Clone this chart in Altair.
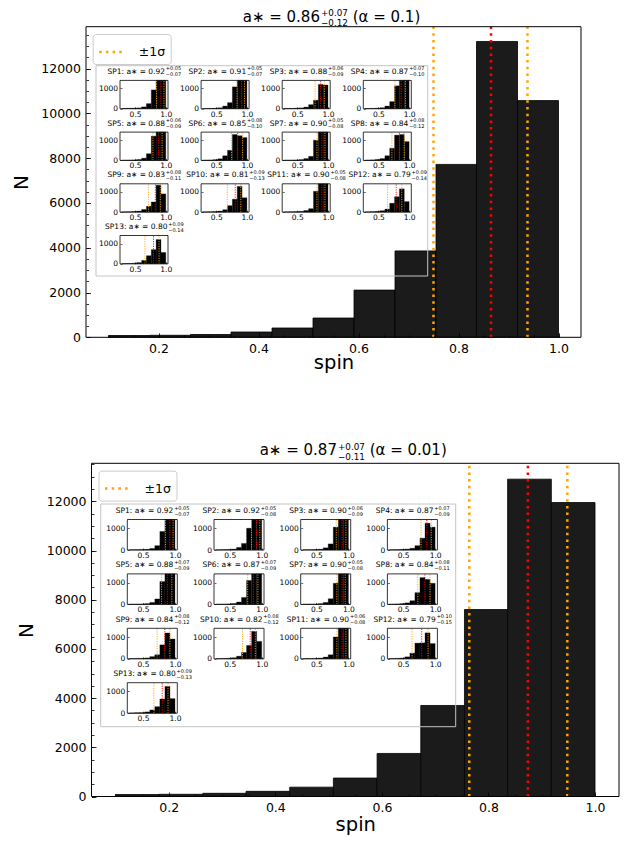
import altair as alt
import pandas as pd

# ---------------- data ----------------
main_edges = [0.100, 0.182, 0.264, 0.345, 0.427, 0.509, 0.591, 0.673, 0.755, 0.836, 0.918, 1.000]
top_counts = [80, 90, 125, 236, 415, 860, 2107, 3858, 7720, 13210, 10570]
bot_counts = [80, 90, 130, 210, 380, 750, 1750, 3700, 7600, 12900, 11950]
top_lines = [0.750, 0.865, 0.938]   # -1sigma, median, +1sigma
bot_lines = [0.764, 0.874, 0.948]
top_title = ["a∗ = 0.86", "+0.07", "−0.12", "(α = 0.1)"]
bot_title = ["a∗ = 0.87", "+0.07", "−0.11", "(α = 0.01)"]

inset_edges = [0.290, 0.369, 0.448, 0.527, 0.606, 0.684, 0.763, 0.842, 0.921, 1.000]
sp_names = ["SP1", "SP2", "SP3", "SP4", "SP5", "SP6", "SP7", "SP8", "SP9", "SP10", "SP11", "SP12", "SP13"]

top_sp_med = [0.92, 0.91, 0.88, 0.87, 0.88, 0.85, 0.90, 0.84, 0.83, 0.81, 0.90, 0.79, 0.80]
top_sp_plus = [0.05, 0.05, 0.06, 0.07, 0.06, 0.08, 0.05, 0.08, 0.08, 0.09, 0.05, 0.09, 0.09]
top_sp_minus = [0.07, 0.07, 0.09, 0.10, 0.09, 0.10, 0.08, 0.12, 0.11, 0.13, 0.08, 0.14, 0.14]
top_sp_counts = [
    [15, 20, 25, 40, 90, 250, 930, 1600, 1600],
    [10, 15, 20, 45, 130, 300, 1080, 1600, 1600],
    [12, 15, 25, 40, 80, 200, 420, 1200, 1170],
    [10, 15, 25, 50, 130, 350, 1130, 1600, 1600],
    [10, 15, 25, 45, 110, 330, 1200, 1600, 1600],
    [12, 20, 35, 80, 230, 500, 1280, 1220, 1130],
    [10, 15, 20, 40, 90, 200, 1000, 1600, 1600],
    [15, 25, 45, 90, 230, 600, 1250, 1280, 930],
    [10, 15, 25, 50, 130, 290, 500, 1330, 900],
    [10, 15, 25, 50, 120, 320, 640, 1270, 710],
    [10, 15, 20, 35, 80, 170, 1030, 1600, 1600],
    [10, 20, 35, 70, 150, 440, 760, 1150, 520],
    [10, 15, 30, 60, 170, 400, 700, 1200, 560],
]

bot_sp_med = [0.92, 0.92, 0.90, 0.87, 0.88, 0.87, 0.90, 0.84, 0.84, 0.82, 0.90, 0.79, 0.80]
bot_sp_plus = [0.05, 0.05, 0.06, 0.07, 0.07, 0.07, 0.05, 0.08, 0.08, 0.08, 0.06, 0.10, 0.09]
bot_sp_minus = [0.07, 0.08, 0.09, 0.09, 0.09, 0.09, 0.08, 0.11, 0.12, 0.12, 0.08, 0.15, 0.13]
bot_sp_counts = [
    [10, 12, 18, 30, 70, 200, 850, 1600, 1600],
    [10, 15, 20, 40, 120, 300, 1000, 1600, 1600],
    [10, 12, 20, 35, 100, 280, 1050, 1600, 1600],
    [10, 15, 25, 40, 80, 200, 540, 1230, 1050],
    [10, 12, 18, 35, 90, 250, 1050, 1600, 1600],
    [10, 12, 20, 40, 110, 320, 1100, 1600, 1600],
    [10, 12, 18, 35, 90, 260, 970, 1600, 1600],
    [12, 20, 35, 70, 170, 540, 1230, 1150, 970],
    [10, 15, 20, 40, 100, 185, 640, 1185, 910],
    [10, 15, 25, 50, 120, 290, 615, 1260, 800],
    [10, 12, 18, 35, 80, 185, 1000, 1600, 1600],
    [10, 20, 35, 90, 260, 720, 730, 1190, 700],
    [10, 15, 25, 60, 150, 300, 650, 1230, 670],
]

# ---------------- layout ----------------
W, H = 617, 830
FONT = "DejaVu Sans"
XDOM = [0.055, 1.045]
IN_XDOM = [0.2545, 1.0355]
IN_YLIM = 1400
XMAJ = [0.2, 0.4, 0.6, 0.8, 1.0]
XMINOR = [round(0.05 * k, 2) for k in range(2, 21)]
ORANGE = "#ffa500"
RED = "#ff0000"

PANELS = [
    dict(x0=78, x1=573, yb=329.3, yt=18.7, ylim=13870, counts=top_counts, lines=top_lines,
         legend=(84.7, 26), n_x=13.7, spin_dy=25, title=top_title, title_y=13.8,
         in_x0=112, in_dx=81.1, in_w=48, in_yb=100.7, in_dy=51.7, in_h=28.3,
         box=(88, 419.7, 57.7, 268),
         med=top_sp_med, plus=top_sp_plus, minus=top_sp_minus, spc=top_sp_counts),
    dict(x0=83.5, x1=611, yb=788.5, yt=455.3, ylim=13545, counts=bot_counts, lines=bot_lines,
         legend=(90.5, 462.6), n_x=18, spin_dy=28, title=bot_title, title_y=447.3,
         in_x0=119.3, in_dx=86.7, in_w=50, in_yb=542, in_dy=54.4, in_h=30.5,
         box=(92.7, 447.7, 496, 718.7),
         med=bot_sp_med, plus=bot_sp_plus, minus=bot_sp_minus, spc=bot_sp_counts),
]

CW = {'S': 0.635, 'P': 0.603, ':': 0.337, ' ': 0.318, 'a': 0.613, '∗': 0.5, '=': 0.838,
      '.': 0.318, '+': 0.838, '−': 0.838, '(': 0.39, ')': 0.39, 'α': 0.659}


def tw(s, fs):
    return fs * sum(CW.get(ch, 0.636) for ch in s)


def S(dom, rng, clamp=False):
    if clamp:
        return alt.Scale(domain=dom, range=rng, nice=False, zero=False, clamp=True)
    return alt.Scale(domain=dom, range=rng, nice=False, zero=False)


def main_layers(P):
    x0, x1, yb, yt, ylim = P['x0'], P['x1'], P['yb'], P['yt'], P['ylim']
    xr, yr = [x0, x1], [yb, yt]
    ymaj = [v for v in range(0, 14001, 2000) if v <= ylim]
    ymin = [v for v in range(0, 14001, 500) if v <= ylim]
    bars_df = pd.DataFrame({'lo': main_edges[:-1], 'hi': main_edges[1:], 'n': P['counts']})
    bars = alt.Chart(bars_df).mark_rect(fill='#1b1b1b', stroke='#000000', strokeWidth=0.8).encode(
        x=alt.X('lo:Q', scale=S(XDOM, xr), axis=alt.Axis(
            orient='bottom', offset=yb - H, values=XMAJ, format='.1f', ticks=False, tickSize=0,
            domain=False, grid=False, labelFontSize=12.5, labelPadding=5, labelFlush=False,
            labelOverlap=False, title='spin', titleFontSize=19.5, titleFontWeight='normal',
            titleX=(x0 + x1) / 2, titleY=P['spin_dy'], titleBaseline='middle', titleAlign='center')),
        x2=alt.X2('hi'),
        y=alt.Y('n:Q', scale=S([0, ylim], yr), axis=alt.Axis(
            orient='left', offset=-x0, values=ymaj, format='d', ticks=False, tickSize=0,
            domain=False, grid=False, labelFontSize=12.5, labelPadding=5.5, labelOverlap=False,
            title='N', titleFontSize=20, titleFontWeight='normal', titleAngle=270,
            titleX=P['n_x'] - x0, titleY=(yb + yt) / 2, titleBaseline='middle', titleAlign='center')),
        y2=alt.Y2Datum(0),
    )
    lo, med, hi = P['lines']
    orange = alt.Chart(pd.DataFrame({'v': [lo, hi], 'lab': ['±1σ', '±1σ']})).mark_rule(
        strokeWidth=2.5, strokeDash=[2.5, 4.2]).encode(
        x=alt.X('v:Q', scale=S(XDOM, xr), axis=alt.Axis(
            orient='top', offset=-yb, values=XMINOR, tickSize=2.5, tickColor='black', tickWidth=0.8,
            labels=False, domain=False, grid=False, title=None, zindex=1)),
        y=alt.YDatum(0, scale=S([0, ylim], yr), axis=alt.Axis(
            orient='right', offset=x0 - W, values=ymin, tickSize=2.5, tickColor='black', tickWidth=0.8,
            labels=False, domain=False, grid=False, title=None, zindex=1)),
        y2=alt.Y2Datum(ylim),
        color=alt.Color('lab:N', scale=alt.Scale(domain=['±1σ'], range=[ORANGE]), legend=alt.Legend(
            orient='none', legendX=P['legend'][0], legendY=P['legend'][1], title=None,
            symbolType='stroke', symbolSize=529, symbolStrokeWidth=2.5, symbolDash=[2.5, 4.2],
            labelFontSize=12.5, labelOffset=15, padding=5, strokeColor='#cccccc',
            fillColor='white', cornerRadius=3, labelFont=FONT, labelColor='black')),
    )
    red = alt.Chart(pd.DataFrame({'v': [med]})).mark_rule(
        color=RED, strokeWidth=2.5, strokeDash=[2.5, 4.2]).encode(
        x=alt.X('v:Q', scale=S(XDOM, xr), axis=alt.Axis(
            orient='top', offset=-yb, values=XMAJ, tickSize=4.5, tickColor='black', tickWidth=0.8,
            labels=False, domain=False, grid=False, title=None, zindex=1)),
        y=alt.YDatum(0, scale=S([0, ylim], yr), axis=alt.Axis(
            orient='right', offset=x0 - W, values=ymaj, tickSize=4.5, tickColor='black', tickWidth=0.8,
            labels=False, domain=False, grid=False, title=None, zindex=1)),
        y2=alt.Y2Datum(ylim),
    )
    frame = alt.Chart(pd.DataFrame({'k': [0]})).mark_rect(
        filled=False, stroke='black', strokeWidth=1).encode(
        x=alt.XDatum(XDOM[0], scale=S(XDOM, xr), axis=None), x2=alt.X2Datum(XDOM[1]),
        y=alt.YDatum(0, scale=S([0, ylim], yr), axis=None), y2=alt.Y2Datum(ylim),
    )
    return [bars], [orange, red, frame]


def inset_layers(P, i):
    r, c = divmod(i, 4)
    ix0 = P['in_x0'] + c * P['in_dx']
    ix1 = ix0 + P['in_w']
    iyb = P['in_yb'] + r * P['in_dy']
    iyt = iyb - P['in_h']
    xs = S(IN_XDOM, [ix0, ix1])
    ys = S([0, IN_YLIM], [iyb, iyt], clamp=True)
    df = pd.DataFrame({'lo': inset_edges[:-1], 'hi': inset_edges[1:], 'n': P['spc'][i]})
    bars = alt.Chart(df).mark_rect(fill='black', stroke='#111111', strokeWidth=0.3).encode(
        x=alt.X('lo:Q', scale=xs, axis=alt.Axis(
            orient='bottom', offset=iyb - H, values=[0.5, 1.0], format='.1f', ticks=False, tickSize=0,
            domain=False, grid=False, labelFontSize=7.5, labelPadding=1.5, labelFlush=False,
            labelOverlap=False, title=None)),
        x2=alt.X2('hi'),
        y=alt.Y('n:Q', scale=ys, axis=alt.Axis(
            orient='left', offset=-ix0, values=[0, 1000], format='d', ticks=False, tickSize=0,
            domain=False, grid=False, labelFontSize=7.5, labelPadding=2.5, labelOverlap=False,
            title=None)),
        y2=alt.Y2Datum(0),
    )
    m, pl, mi = P['med'][i], P['plus'][i], P['minus'][i]
    ldf = pd.DataFrame({'v': [m - mi, m, m + pl], 'c': [ORANGE, RED, ORANGE]})
    lines = alt.Chart(ldf).mark_rule(strokeWidth=0.9, strokeDash=[1.2, 1.2]).encode(
        x=alt.X('v:Q', scale=xs, axis=alt.Axis(
            orient='top', offset=-iyb, values=[0.5, 1.0], tickSize=2, tickColor='black', tickWidth=0.6,
            labels=False, domain=False, grid=False, title=None, zindex=1)),
        y=alt.YDatum(0, scale=ys, axis=alt.Axis(
            orient='right', offset=ix0 - W, values=[0, 1000], tickSize=2, tickColor='black', tickWidth=0.6,
            labels=False, domain=False, grid=False, title=None, zindex=1)),
        y2=alt.Y2Datum(IN_YLIM),
        color=alt.Color('c:N', scale=None),
    )
    frame = alt.Chart(pd.DataFrame({'k': [0]})).mark_rect(
        filled=False, stroke='black', strokeWidth=0.8).encode(
        x=alt.XDatum(IN_XDOM[0], scale=xs, axis=None), x2=alt.X2Datum(IN_XDOM[1]),
        y=alt.YDatum(0, scale=ys, axis=None), y2=alt.Y2Datum(IN_YLIM),
    )
    base = f"{sp_names[i]}:  a∗ = {m:.2f}"
    sup = f"+{pl:.2f}"
    sub = f"−{mi:.2f}"
    fb, fs = 7.5, 5.0
    cx = (ix0 + ix1) / 2
    anchor = cx - (tw(base, fb) + tw(sup, fs)) / 2 + tw(base, fb)
    rrows = [dict(px=anchor, py=iyt - 6.5, t=base, fs=fb)]
    lrows = [dict(px=anchor + 0.8, py=iyt - 10, t=sup, fs=fs),
             dict(px=anchor + 0.8, py=iyt - 4.0, t=sub, fs=fs)]
    return [bars, lines, frame], rrows, lrows


layers_bottom = []
layers_top = []
rrows, lrows, boxes = [], [], []
for P in PANELS:
    under, over = main_layers(P)
    layers_bottom += under
    for i in range(len(sp_names)):
        ls, rr, lr = inset_layers(P, i)
        layers_bottom += ls
        rrows += rr
        lrows += lr
    layers_top += over
    bx = P['box']
    boxes.append(dict(a=bx[0], b=bx[1], c=bx[2], d=bx[3]))
    # main title
    b, sp, sb, rest = P['title']
    fb, fs = 15, 8.8
    cx = (P['x0'] + P['x1']) / 2
    total = tw(b, fb) + tw(sp, fs) + 0.318 * fb + tw(rest, fb)
    anchor = cx - total / 2 + tw(b, fb)
    ybase = P['title_y']
    rrows.append(dict(px=anchor, py=ybase, t=b, fs=fb))
    lrows.append(dict(px=anchor + 1, py=ybase - 5.6, t=sp, fs=fs))
    lrows.append(dict(px=anchor + 1, py=ybase + 4.4, t=sb, fs=fs))
    lrows.append(dict(px=anchor + tw(sp, fs) + 0.318 * fb + 1, py=ybase, t=rest, fs=fb))

box_layer = alt.Chart(pd.DataFrame(boxes)).mark_rect(
    filled=False, stroke='#c4c4c4', strokeWidth=1).encode(
    x=alt.X('a:Q', scale=None, axis=None), x2=alt.X2('b'),
    y=alt.Y('c:Q', scale=None, axis=None), y2=alt.Y2('d'),
)


def text_layer(rows, align):
    return alt.Chart(pd.DataFrame(rows)).mark_text(
        align=align, baseline='alphabetic', font=FONT, color='black').encode(
        x=alt.X('px:Q', scale=None, axis=None),
        y=alt.Y('py:Q', scale=None, axis=None),
        text='t:N',
        size=alt.Size('fs:Q', scale=None, legend=None),
    )


all_layers = layers_bottom + [box_layer] + layers_top + [text_layer(rrows, 'right'), text_layer(lrows, 'left')]

chart = alt.layer(*all_layers).resolve_scale(
    x='independent', y='independent', color='independent', size='independent'
).resolve_axis(x='independent', y='independent').resolve_legend(color='independent').properties(
    width=W, height=H, autosize=alt.AutoSizeParams(type='none'), padding=0, background='white'
).configure(font=FONT).configure_view(stroke='transparent').configure_axis(
    labelFont=FONT, titleFont=FONT, labelColor='black', titleColor='black', tickColor='black', grid=False
).configure_legend(labelFont=FONT)

chart.save("out.html", embed_options={"renderer": "svg", "actions": False})
